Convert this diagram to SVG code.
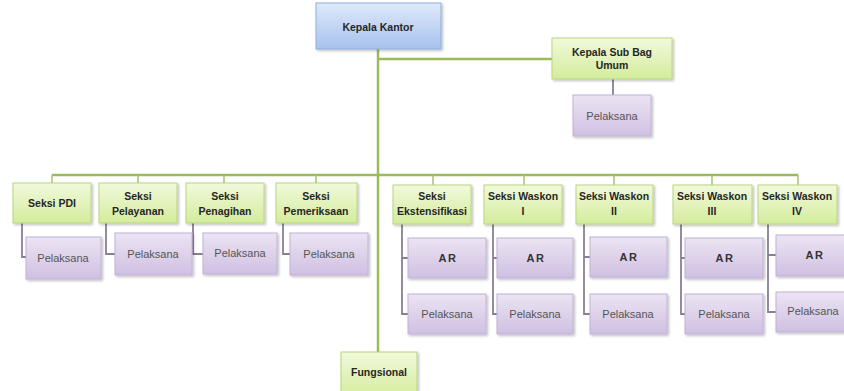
<svg xmlns="http://www.w3.org/2000/svg" width="844" height="391" viewBox="0 0 844 391">
<defs>
<linearGradient id="gGreen" x1="0" y1="0" x2="0" y2="1"><stop offset="0" stop-color="#f1f9dc"/><stop offset="1" stop-color="#d4ec9c"/></linearGradient>
<linearGradient id="gPurple" x1="0" y1="0" x2="0" y2="1"><stop offset="0" stop-color="#ece4f3"/><stop offset="1" stop-color="#cfc0e2"/></linearGradient>
<linearGradient id="gBlue" x1="0" y1="0" x2="0" y2="1"><stop offset="0" stop-color="#dfe9fa"/><stop offset="1" stop-color="#a6c2ee"/></linearGradient>
<filter id="sh" x="-10%" y="-10%" width="130%" height="130%"><feDropShadow dx="1.5" dy="1.5" stdDeviation="1" flood-color="#000" flood-opacity="0.25"/></filter>
</defs>
<style>
.g{fill:url(#gGreen);stroke:#b9d67e;stroke-width:1;filter:url(#sh)}
.p{fill:url(#gPurple);stroke:#c0b2d6;stroke-width:1;filter:url(#sh)}
.b{fill:url(#gBlue);stroke:#8fb0dc;stroke-width:1;filter:url(#sh)}
.t{font-family:"Liberation Sans",Arial,sans-serif;font-size:10.5px;font-weight:bold;fill:#262626;text-anchor:middle}
.n{font-family:"Liberation Sans",Arial,sans-serif;font-size:11px;fill:#555;text-anchor:middle}
.ar{font-family:"Liberation Sans",Arial,sans-serif;font-size:11px;font-weight:bold;fill:#333;text-anchor:middle;letter-spacing:1.5px}
.cg{stroke:#9bbb59;stroke-width:2.5;fill:none}
.cgs{stroke:#a6c46a;stroke-width:1.5;fill:none}
.cp{stroke:#8a7e96;stroke-width:1.8;fill:none}
</style>
<g id="connectors">
<path class="cg" d="M378,49 V352"/>
<path class="cg" d="M378,59 H552"/>
<path class="cp" d="M613,79 V95"/>
<path class="cg" d="M52,175 H798"/>
<path class="cgs" d="M52,175 V183 M138,175 V183 M224,175 V183 M316,175 V183 M433,175 V185 M524,175 V185 M614,175 V185 M712,175 V185 M798,175 V185"/>
<path class="cp" d="M22,223 V257 H26"/>
<path class="cp" d="M106,223 V254 H115"/>
<path class="cp" d="M193,223 V254 H203"/>
<path class="cp" d="M283,223 V254 H290"/>
<path class="cp" d="M402,224 V314 H408 M402,258 H408"/>
<path class="cp" d="M493,224 V314 H497 M493,258 H497"/>
<path class="cp" d="M584,224 V314 H590 M584,257 H590"/>
<path class="cp" d="M681,224 V314 H685 M681,258 H685"/>
<path class="cp" d="M768,224 V312 H776 M768,255 H776"/>
</g>
<g id="kepala-kantor"><rect class="b" x="316" y="3" width="125" height="46"/><text class="t" x="378" y="31">Kepala Kantor</text></g>
<g id="kepala-sub-bag"><rect class="g" x="552" y="38" width="120" height="41"/><text class="t" x="612" y="56">Kepala Sub Bag</text><text class="t" x="612" y="69">Umum</text></g>
<g id="pelaksana-umum"><rect class="p" x="573" y="95" width="78" height="41"/><text class="n" x="612" y="120">Pelaksana</text></g>
<g id="seksi-pdi"><rect class="g" x="13" y="183" width="78" height="40"/><text class="t" x="52" y="207">Seksi PDI</text></g>
<g id="seksi-pelayanan"><rect class="g" x="99" y="183" width="78" height="40"/><text class="t" x="138" y="200">Seksi</text><text class="t" x="138" y="215">Pelayanan</text></g>
<g id="seksi-penagihan"><rect class="g" x="186" y="183" width="78" height="40"/><text class="t" x="225" y="200">Seksi</text><text class="t" x="225" y="215">Penagihan</text></g>
<g id="seksi-pemeriksaan"><rect class="g" x="276" y="183" width="81" height="40"/><text class="t" x="316" y="200">Seksi</text><text class="t" x="316" y="215">Pemeriksaan</text></g>
<g id="pelaksana-pdi"><rect class="p" x="26" y="237" width="75" height="42"/><text class="n" x="63" y="262">Pelaksana</text></g>
<g id="pelaksana-pelayanan"><rect class="p" x="115" y="233" width="77" height="42"/><text class="n" x="153" y="258">Pelaksana</text></g>
<g id="pelaksana-penagihan"><rect class="p" x="203" y="233" width="74" height="41"/><text class="n" x="240" y="257">Pelaksana</text></g>
<g id="pelaksana-pemeriksaan"><rect class="p" x="290" y="233" width="78" height="42"/><text class="n" x="329" y="258">Pelaksana</text></g>
<g id="seksi-ekstensifikasi"><rect class="g" x="393" y="185" width="78" height="39"/><text class="t" x="432" y="200">Seksi</text><text class="t" x="432" y="215">Ekstensifikasi</text></g>
<g id="seksi-waskon-1"><rect class="g" x="484" y="185" width="78" height="39"/><text class="t" x="523" y="200">Seksi Waskon</text><text class="t" x="523" y="215">I</text></g>
<g id="seksi-waskon-2"><rect class="g" x="576" y="185" width="77" height="39"/><text class="t" x="614" y="200">Seksi Waskon</text><text class="t" x="614" y="215">II</text></g>
<g id="seksi-waskon-3"><rect class="g" x="673" y="185" width="79" height="39"/><text class="t" x="712" y="200">Seksi Waskon</text><text class="t" x="712" y="215">III</text></g>
<g id="seksi-waskon-4"><rect class="g" x="758" y="185" width="79" height="39"/><text class="t" x="797" y="200">Seksi Waskon</text><text class="t" x="797" y="215">IV</text></g>
<g id="ar-ekst"><rect class="p" x="408" y="238" width="78" height="40"/><text class="ar" x="448" y="262">AR</text></g>
<g id="pelaksana-ekst"><rect class="p" x="408" y="294" width="78" height="40"/><text class="n" x="447" y="318">Pelaksana</text></g>
<g id="ar-w1"><rect class="p" x="497" y="238" width="76" height="40"/><text class="ar" x="536" y="262">AR</text></g>
<g id="pelaksana-w1"><rect class="p" x="497" y="294" width="76" height="40"/><text class="n" x="535" y="318">Pelaksana</text></g>
<g id="ar-w2"><rect class="p" x="590" y="237" width="77" height="40"/><text class="ar" x="629" y="261">AR</text></g>
<g id="pelaksana-w2"><rect class="p" x="590" y="294" width="77" height="40"/><text class="n" x="628" y="318">Pelaksana</text></g>
<g id="ar-w3"><rect class="p" x="685" y="238" width="78" height="40"/><text class="ar" x="725" y="262">AR</text></g>
<g id="pelaksana-w3"><rect class="p" x="685" y="294" width="78" height="40"/><text class="n" x="724" y="318">Pelaksana</text></g>
<g id="ar-w4"><rect class="p" x="776" y="235" width="70" height="41"/><text class="ar" x="815" y="259">AR</text></g>
<g id="pelaksana-w4"><rect class="p" x="776" y="292" width="70" height="40"/><text class="n" x="813" y="315">Pelaksana</text></g>
<g id="fungsional"><rect class="g" x="341" y="352" width="76" height="45"/><text class="t" x="379" y="376">Fungsional</text></g>
</svg>
